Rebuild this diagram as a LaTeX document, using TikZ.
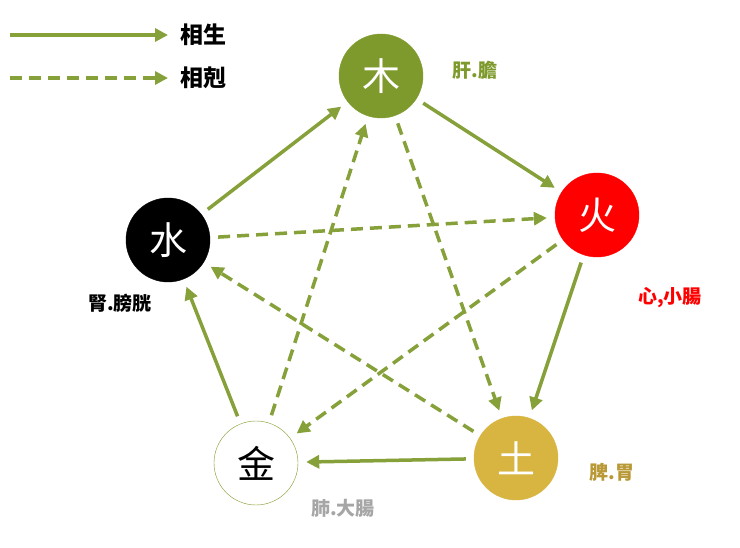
\documentclass[tikz,border=0pt]{standalone}
\usepackage{fontspec}
\setmainfont{Noto Sans CJK SC}
\usetikzlibrary{arrows.meta,positioning}
\definecolor{olive}{HTML}{7E9A2C}
\definecolor{arrowc}{HTML}{86A03A}
\definecolor{gold}{HTML}{D8B440}
\definecolor{firered}{HTML}{FF0000}
\begin{document}
\begin{tikzpicture}[x=1pt,y=-1pt,
  elem/.style={circle, draw=#1, minimum size=84pt, inner sep=0pt, font=\fontsize{38}{38}\selectfont},
  lbl/.style={font=\fontsize{19}{19}\selectfont\bfseries},
  sheng/.style={-{Triangle[length=13pt,width=13pt]}, arrowc, line width=3.5pt, shorten >=8pt, shorten <=8pt},
  ke/.style={sheng, dash pattern=on 12pt off 7pt}
]
\useasboundingbox (0,0) rectangle (740,548);
% elements
\node[elem=olive, fill=olive, text=white] (mu) at (381,76) {木};
\node[elem=firered, fill=firered, text=white] (huo) at (597,215) {火};
\node[elem=gold, fill=gold, text=white] (tu) at (516,458) {土};
\node[elem=olive, fill=white, text=black] (jin) at (256,463) {金};
\node[elem=black, fill=black, text=white] (shui) at (168,240) {水};
% organs
\node[lbl, olive] (lmu) at (475,70) {肝.膽};
\node[lbl, firered] (lhuo) at (670,298) {心,小腸};
\node[lbl, gold!85!black] (ltu) at (612,472) {脾.胃};
\node[lbl, black!35] (ljin) at (343,508) {肺.大腸};
\node[lbl, black] (lshui) at (120,303) {腎.膀胱};
% legend
\coordinate (a1) at (10,35); \coordinate (b1) at (168,35);
\coordinate (a2) at (10,78); \coordinate (b2) at (168,78);
\draw[sheng, shorten <=0pt, shorten >=0pt] (a1) -- (b1);
\draw[ke, shorten <=0pt, shorten >=0pt] (a2) -- (b2);
\node[lbl, font=\fontsize{23}{23}\selectfont\bfseries, anchor=west] (tsheng) at (177,35) {相生};
\node[lbl, font=\fontsize{23}{23}\selectfont\bfseries, anchor=west] (tke) at (177,78) {相剋};
% sheng cycle
\draw[sheng] (shui) -- (mu);
\draw[sheng] (mu) -- (huo);
\draw[sheng] (huo) -- (tu);
\draw[sheng] (tu) -- (jin);
\draw[sheng] (jin) -- (shui);
% ke cycle
\draw[ke] (shui) -- (huo);
\draw[ke] (huo) -- (jin);
\draw[ke] (jin) -- (mu);
\draw[ke] (mu) -- (tu);
\draw[ke] (tu) -- (shui);
\end{tikzpicture}
\end{document}
